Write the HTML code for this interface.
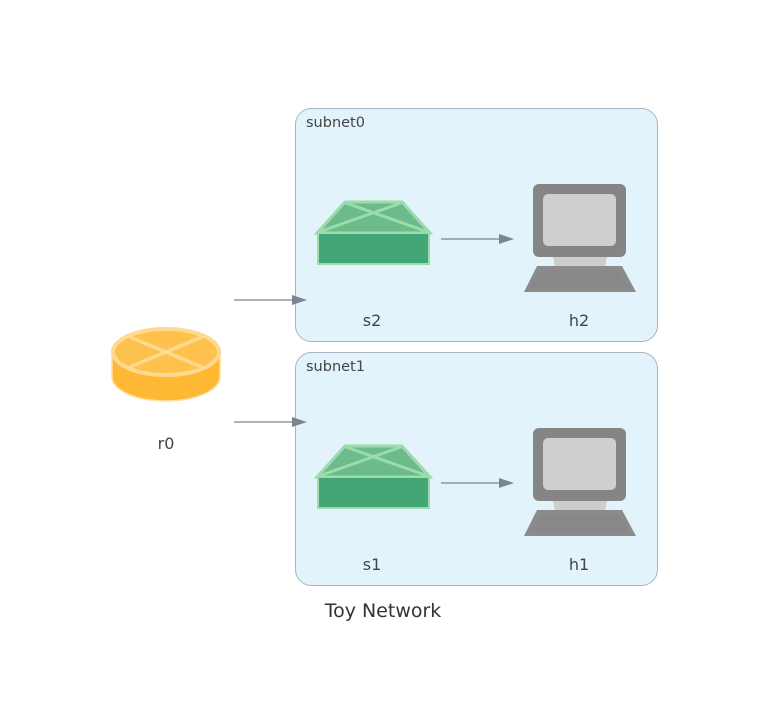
<!DOCTYPE html>
<html><head><meta charset="utf-8"><style>html,body{margin:0;padding:0;background:#fff}svg{display:block}</style></head><body>
<svg width="784" height="728" viewBox="0 0 784 728" xmlns="http://www.w3.org/2000/svg" font-family="'DejaVu Sans','Liberation Sans',sans-serif">
<defs>
<g id="sw">
<polygon points="345,202 402,202 430,233 317,233" fill="#6dbb8b" stroke="#9adcaa" stroke-width="3"/>
<line x1="346" y1="203" x2="428" y2="232" stroke="#9adcaa" stroke-width="3"/>
<line x1="401" y1="203" x2="319" y2="232" stroke="#9adcaa" stroke-width="3"/>
<rect x="318" y="233" width="111" height="31" fill="#42a677" stroke="#9adcaa" stroke-width="2"/>
</g>
<g id="pc">
<rect x="533" y="184" width="93" height="73" rx="6" fill="#858585"/>
<rect x="543" y="194" width="73" height="52" rx="5" fill="#cfcfcf"/>
<polygon points="553,257 607,257 605,267 555,267" fill="#cdcdcd"/>
<polygon points="537,266 622,266 636,292 524,292" fill="#8b8b8b"/>
<polygon points="541,270 618,270 630,288 530,288" fill="#888"/>
</g>
<g id="ar"><line x1="441" y1="239" x2="500" y2="239" stroke="#7a8591" stroke-width="1.3"/><polygon points="499,234 514,239 499,244" fill="#7a8591"/></g>
</defs>
<rect x="295.5" y="108.5" width="362" height="233" rx="16" fill="#e2f3fc" stroke="#a9b4bf"/>
<rect x="295.5" y="352.5" width="362" height="233" rx="16" fill="#e2f3fc" stroke="#a9b4bf"/>
<text x="306" y="127" font-size="14.5" fill="#444">subnet0</text>
<text x="306" y="371" font-size="14.5" fill="#444">subnet1</text>
<use href="#sw"/><use href="#sw" y="244"/>
<use href="#pc"/><use href="#pc" y="244"/>
<use href="#ar"/><use href="#ar" y="244"/>
<line x1="234" y1="300" x2="294" y2="300" stroke="#7a8591" stroke-width="1.3"/><polygon points="292,295 307,300 292,305" fill="#7a8591"/>
<line x1="234" y1="422" x2="294" y2="422" stroke="#7a8591" stroke-width="1.3"/><polygon points="292,417 307,422 292,427" fill="#7a8591"/>
<text x="372" y="326" font-size="16" fill="#444" text-anchor="middle">s2</text>
<text x="579" y="326" font-size="16" fill="#444" text-anchor="middle">h2</text>
<text x="372" y="570" font-size="16" fill="#444" text-anchor="middle">s1</text>
<text x="579" y="570" font-size="16" fill="#444" text-anchor="middle">h1</text>
<!-- router -->
<path d="M112,352 L112,377 A54,24 0 0 0 220,377 L220,352 Z" fill="#ffb833" stroke="#ffe0a0" stroke-width="1.5"/>
<ellipse cx="166" cy="352" rx="53" ry="23" fill="#ffc14e" stroke="#ffd98f" stroke-width="4"/>
<line x1="130" y1="337" x2="202" y2="367" stroke="#ffd98f" stroke-width="3.5"/>
<line x1="202" y1="337" x2="130" y2="367" stroke="#ffd98f" stroke-width="3.5"/>
<text x="166" y="449" font-size="16" fill="#444" text-anchor="middle">r0</text>
<text x="383" y="617" font-size="19" fill="#333" text-anchor="middle">Toy Network</text>
</svg>
</body></html>
